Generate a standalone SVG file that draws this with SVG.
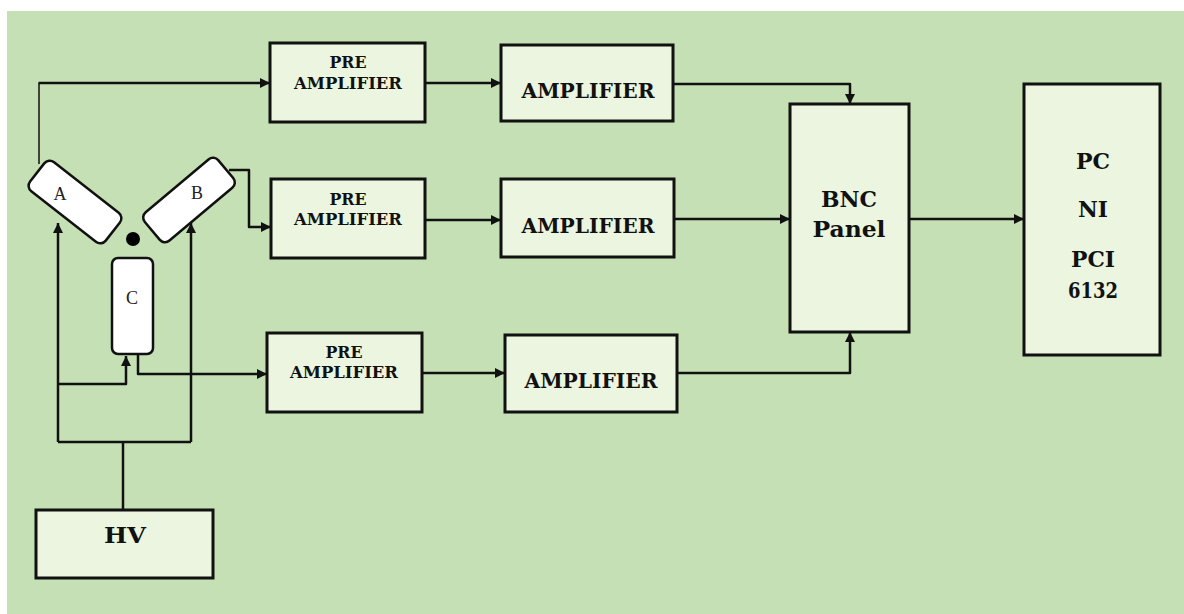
<svg xmlns="http://www.w3.org/2000/svg" width="1184" height="614" viewBox="0 0 1184 614">
<defs>
<style>
.box{fill:#ebf5df;stroke:#111;stroke-width:3}
.det{fill:#fff;stroke:#111;stroke-width:2.5}
.ln{fill:none;stroke:#111;stroke-width:2.5;stroke-linejoin:round}
.thin{fill:none;stroke:#111;stroke-width:1.5}
.t{font-family:"DejaVu Serif","Liberation Serif",serif;font-weight:bold;fill:#111;text-anchor:middle}
.s{font-size:17px}
.m{font-size:21px}
.l{font-size:23px}
.p{font-size:22px}
.d{font-family:"Liberation Serif","DejaVu Serif",serif;font-size:18px;fill:#222;text-anchor:middle}
</style>
<marker id="ah" viewBox="0 0 10 10" refX="10" refY="5" markerWidth="11" markerHeight="10" markerUnits="userSpaceOnUse" orient="auto">
<path d="M0,0 L10,5 L0,10 z" fill="#111"/>
</marker>
</defs>
<rect x="0" y="0" width="1184" height="614" fill="#ffffff"/>
<rect x="7" y="11" width="1177" height="603" fill="#c5e0b4"/>

<g id="connectors">
<path class="thin" d="M39,164 V83"/>
<path class="ln" d="M38.5,83 H270" marker-end="url(#ah)"/>
<path class="ln" d="M229,170 H249 V227 H271" marker-end="url(#ah)"/>
<path class="ln" d="M138,355 V374 H267" marker-end="url(#ah)"/>
<path class="ln" d="M425,83 H501" marker-end="url(#ah)"/>
<path class="ln" d="M425,220 H501" marker-end="url(#ah)"/>
<path class="ln" d="M422,373 H505" marker-end="url(#ah)"/>
<path class="ln" d="M673,84 H850 V104" marker-end="url(#ah)"/>
<path class="ln" d="M674,219 H790" marker-end="url(#ah)"/>
<path class="ln" d="M677,373 H850 V332" marker-end="url(#ah)"/>
<path class="ln" d="M909,219 H1024" marker-end="url(#ah)"/>
<path class="ln" d="M123,510 V442"/>
<path class="ln" d="M58,442 H191"/>
<path class="ln" d="M58,442 V223" marker-end="url(#ah)"/>
<path class="ln" d="M191,442 V223" marker-end="url(#ah)"/>
<path class="ln" d="M58,384 H126 V356" marker-end="url(#ah)"/>
</g>

<g id="detA">
<rect class="det" x="-48" y="-18.5" width="96" height="37" rx="7" transform="translate(75,202) rotate(38)"/>
<text class="d" x="60" y="200">A</text>
</g>
<g id="detB">
<rect class="det" x="-48" y="-18.5" width="96" height="37" rx="7" transform="translate(189,200) rotate(-40)"/>
<text class="d" x="197" y="199">B</text>
</g>
<g id="source">
<circle cx="133" cy="239" r="7" fill="#000"/>
</g>
<g id="detC">
<rect class="det" x="112" y="258" width="41" height="96" rx="6"/>
<text class="d" x="132" y="304">C</text>
</g>

<g id="pre1">
<rect class="box" x="270" y="43" width="155" height="79"/>
<text class="t s" x="348" y="68" textLength="37" lengthAdjust="spacingAndGlyphs">PRE</text>
<text class="t s" x="348" y="89" textLength="108" lengthAdjust="spacingAndGlyphs">AMPLIFIER</text>
</g>
<g id="amp1">
<rect class="box" x="501" y="45" width="172" height="76"/>
<text class="t m" x="588" y="98" textLength="133" lengthAdjust="spacingAndGlyphs">AMPLIFIER</text>
</g>
<g id="pre2">
<rect class="box" x="271" y="179" width="154" height="79"/>
<text class="t s" x="348" y="205" textLength="37" lengthAdjust="spacingAndGlyphs">PRE</text>
<text class="t s" x="348" y="225" textLength="108" lengthAdjust="spacingAndGlyphs">AMPLIFIER</text>
</g>
<g id="amp2">
<rect class="box" x="501" y="179" width="173" height="78"/>
<text class="t m" x="588" y="233" textLength="133" lengthAdjust="spacingAndGlyphs">AMPLIFIER</text>
</g>
<g id="pre3">
<rect class="box" x="267" y="333" width="155" height="79"/>
<text class="t s" x="344" y="358" textLength="37" lengthAdjust="spacingAndGlyphs">PRE</text>
<text class="t s" x="344" y="378" textLength="108" lengthAdjust="spacingAndGlyphs">AMPLIFIER</text>
</g>
<g id="amp3">
<rect class="box" x="505" y="335" width="172" height="77"/>
<text class="t m" x="591" y="388" textLength="133" lengthAdjust="spacingAndGlyphs">AMPLIFIER</text>
</g>
<g id="bnc">
<rect class="box" x="790" y="104" width="119" height="228"/>
<text class="t l" x="849" y="207" textLength="56" lengthAdjust="spacingAndGlyphs">BNC</text>
<text class="t l" x="849" y="237" textLength="73" lengthAdjust="spacingAndGlyphs">Panel</text>
</g>
<g id="pc">
<rect class="box" x="1024" y="84" width="136" height="271"/>
<text class="t p" x="1093" y="169" textLength="34" lengthAdjust="spacingAndGlyphs">PC</text>
<text class="t p" x="1093" y="217" textLength="30" lengthAdjust="spacingAndGlyphs">NI</text>
<text class="t p" x="1093" y="267" textLength="44" lengthAdjust="spacingAndGlyphs">PCI</text>
<text class="t p" x="1093" y="298" textLength="50" lengthAdjust="spacingAndGlyphs">6132</text>
</g>
<g id="hv">
<rect class="box" x="36" y="510" width="177" height="68"/>
<text class="t l" x="125" y="543" textLength="42" lengthAdjust="spacingAndGlyphs">HV</text>
</g>
</svg>
